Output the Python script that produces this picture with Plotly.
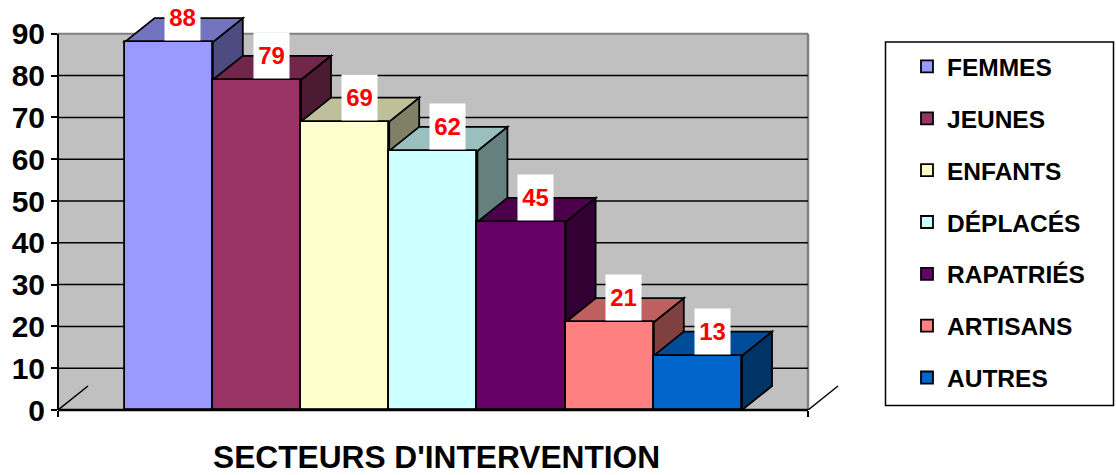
import plotly.graph_objects as go

# Intervention sectors and their values
categories = ["FEMMES", "JEUNES", "ENFANTS", "DÉPLACÉS", "RAPATRIÉS", "ARTISANS", "AUTRES"]
values = [88, 79, 69, 62, 45, 21, 13]
colors = ["#9999FF", "#993366", "#FFFFCC", "#CCFFFF", "#660066", "#FF8080", "#0066CC"]
y_ticks = [0, 10, 20, 30, 40, 50, 60, 70, 80, 90]
axis_title = "SECTEURS D'INTERVENTION"

FONT = "Liberation Sans, Arial, sans-serif"
W, H = 1116, 475
PLOT_L, PLOT_R, PLOT_T, PLOT_B = 58, 842, 0, 410
WALL_R_PX = 808
PX_PER_CAT = 88.2
PX_PER_UNIT = 4.18
FIRST_BAR_PX = 124.6

plot_w = PLOT_R - PLOT_L
plot_h = PLOT_B - PLOT_T

x_min = -0.5 - (FIRST_BAR_PX - PLOT_L) / PX_PER_CAT
x_max = x_min + plot_w / PX_PER_CAT
y_max = plot_h / PX_PER_UNIT
wall_right = x_min + (WALL_R_PX - PLOT_L) / PX_PER_CAT
wall_top = y_ticks[-1]

# Oblique depth of the fake 3D projection, in axis units
DX = 30 / PX_PER_CAT
DY = 24 / PX_PER_UNIT


def shade(hex_color, factor):
    r, g, b = (int(hex_color[i:i + 2], 16) for i in (1, 3, 5))
    return f"rgb({r * factor:.0f},{g * factor:.0f},{b * factor:.0f})"


def polygon(points):
    return "M " + " L ".join(f"{x:.4f} {y:.4f}" for x, y in points) + " Z"


shapes = [
    # back wall
    dict(type="rect", layer="below", xref="x", yref="y", x0=x_min, x1=wall_right, y0=0, y1=wall_top,
         fillcolor="#C0C0C0", line=dict(width=0)),
    dict(type="line", layer="below", xref="x", yref="y", x0=x_min, x1=wall_right, y0=wall_top, y1=wall_top,
         line=dict(color="#808080", width=2)),
    dict(type="line", layer="below", xref="x", yref="y", x0=wall_right, x1=wall_right, y0=0, y1=wall_top,
         line=dict(color="#808080", width=2.5)),
]

# gridlines on the wall
for t in y_ticks[1:-1]:
    shapes.append(dict(type="line", layer="below", xref="x", yref="y", x0=x_min, x1=wall_right, y0=t, y1=t,
                       line=dict(color="black", width=1.5)))

# floor depth strokes at both ends
for x0 in (x_min, wall_right):
    shapes.append(dict(type="line", layer="below", xref="x", yref="y", x0=x0, x1=x0 + DX, y0=0, y1=DY,
                       line=dict(color="black", width=1.5)))

# top and side faces, left to right so each bar hides the side of the previous one
for i, (v, c) in enumerate(zip(values, colors)):
    l, r = i - 0.5, i + 0.5
    shapes.append(dict(type="path", layer="below", xref="x", yref="y",
                       path=polygon([(r, 0), (r + DX, DY), (r + DX, v + DY), (r, v)]),
                       fillcolor=shade(c, 0.5), line=dict(color="black", width=1.8)))
    shapes.append(dict(type="path", layer="below", xref="x", yref="y",
                       path=polygon([(l, v), (l + DX, v + DY), (r + DX, v + DY), (r, v)]),
                       fillcolor=shade(c, 0.75), line=dict(color="black", width=1.8)))

# axis lines, placed over the bars
shapes.append(dict(type="line", layer="above", xref="paper", yref="y", x0=0, x1=0, y0=0, y1=wall_top,
                   line=dict(color="black", width=2)))
shapes.append(dict(type="line", layer="above", xref="x", yref="paper", x0=x_min, x1=wall_right, y0=0, y1=0,
                   line=dict(color="black", width=2.5)))

# legend frame
shapes.append(dict(type="rect", layer="above", xref="paper", yref="paper",
                   x0=(885.5 - PLOT_L) / plot_w, x1=(1113.5 - PLOT_L) / plot_w,
                   y0=(PLOT_B - 405.5) / plot_h, y1=(PLOT_B - 42) / plot_h,
                   line=dict(color="black", width=1.5)))

fig = go.Figure()
for i, (name, v, c) in enumerate(zip(categories, values, colors)):
    fig.add_trace(go.Bar(x=[i], y=[v], width=1, name=name, legendgroup=name,
                         marker=dict(color=c, line=dict(color="black", width=1.8))))

# white value boxes sitting on the top faces
annotations = [
    dict(x=i + DX / 2 - 0.01, y=v, xref="x", yref="y", text=f"<b>{v}</b>", showarrow=False,
         xanchor="center", yanchor="bottom", yshift=1, width=35, height=45, bgcolor="white", borderpad=0,
         align="center", valign="middle", font=dict(family=FONT, size=24, color="#FF0000"))
    for i, v in enumerate(values)
]
# axis title, positioned relative to the plot area
annotations.append(dict(x=(436.5 - PLOT_L) / plot_w, y=(PLOT_B - 457) / plot_h, xref="paper", yref="paper",
                        text=f"<b>{axis_title}</b>", showarrow=False, xanchor="center", yanchor="middle",
                        font=dict(family=FONT, size=31.7, color="black")))

fig.update_layout(
    width=W, height=H,
    margin=dict(l=PLOT_L, r=W - PLOT_R, t=PLOT_T, b=H - PLOT_B, pad=0, autoexpand=False),
    paper_bgcolor="white", plot_bgcolor="white",
    barmode="overlay",
    bargap=0,
    shapes=shapes,
    annotations=annotations,
    font=dict(family=FONT, color="black"),
    showlegend=True,
    legend=dict(x=(885 - PLOT_L) / plot_w, y=1 - (44 - PLOT_T) / plot_h, xanchor="left", yanchor="top",
                bgcolor="rgba(0,0,0,0)", borderwidth=0, tracegroupgap=17, indentation=22,
                font=dict(family=FONT, size=24.5, weight="bold", color="black")),
    xaxis=dict(range=[x_min, x_max], showgrid=False, zeroline=False, showline=False,
               tickmode="array", tickvals=[x_min, wall_right], ticktext=["", ""],
               ticks="outside", ticklen=6, tickwidth=2, tickcolor="black"),
    yaxis=dict(range=[0, y_max], showgrid=False, zeroline=False, showline=False,
               tickmode="array", tickvals=y_ticks, ticks="outside", ticklen=6, tickwidth=2,
               tickcolor="black", ticklabelstandoff=0,
               tickfont=dict(family=FONT, size=30, weight="bold", color="black")),
)

fig.write_html("out.html")
